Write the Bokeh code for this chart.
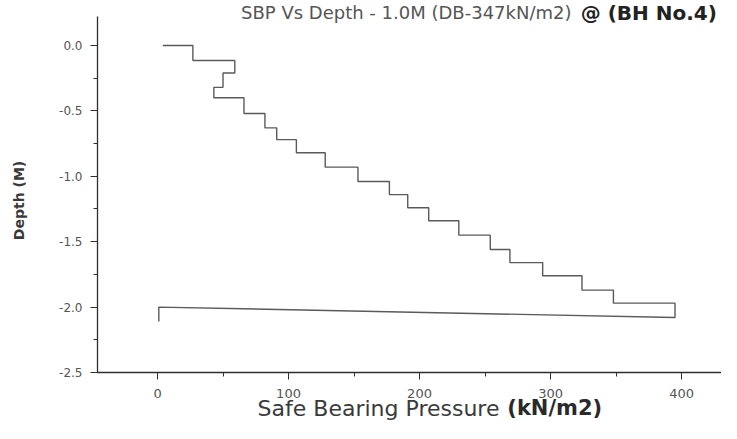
import math
from bokeh.plotting import figure
from bokeh.models import Label, SingleIntervalTicker, PrintfTickFormatter, Range1d
from bokeh.embed import file_html
from bokeh.resources import INLINE

# ---- data ----
# depth (m) at the top of each step and safe bearing pressure (kN/m2) of that step
step_depths = [0.00, -0.115, -0.21, -0.32, -0.40, -0.52, -0.63, -0.72, -0.82, -0.93,
               -1.04, -1.14, -1.24, -1.34, -1.45, -1.56, -1.66, -1.76, -1.87, -1.97]
step_sbp = [27, 59, 50, 43, 66, 82, 91, 106, 128, 153,
            177, 191, 207, 230, 254, 269, 294, 324, 348, 395]
start_sbp = 4
end_depth = -2.08
# closing segment back to the depth axis
return_sbp = [1, 1]
return_depth = [-2.00, -2.11]

x_axis_start = -45.8
y_axis_bounds = (-2.5001, 0.222)
x_ticks_interval = 100
y_ticks_interval = 0.5

title_main = "SBP Vs Depth - 1.0M (DB-347kN/m2)"
title_bold = "@ (BH No.4)"
xlabel_main = "Safe Bearing Pressure"
xlabel_bold = "(kN/m2)"
ylabel = "Depth (M)"

# ---- build step path ----
xs = [start_sbp]
ys = [step_depths[0]]
for i, s in enumerate(step_sbp):
    nxt = step_depths[i + 1] if i + 1 < len(step_depths) else end_depth
    xs += [s, s]
    ys += [step_depths[i], nxt]
xs += return_sbp
ys += return_depth

W, H = 721, 423
p = figure(width=W, height=H,
           x_range=Range1d(-119.85, 430.5), y_range=Range1d(-2.890, 0.344),
           output_backend="svg", toolbar_location=None,
           min_border=0, min_border_left=0, min_border_right=0,
           min_border_top=0, min_border_bottom=0)
p.outline_line_color = None
p.xgrid.visible = False
p.ygrid.visible = False
p.background_fill_color = "white"
p.border_fill_color = "white"

p.line(xs, ys, line_color="#5a5a5a", line_width=1.4)

axis_col = "#2e2e2e"
for ax in (p.xaxis[0], p.yaxis[0]):
    ax.axis_line_color = axis_col
    ax.axis_line_width = 1.3
    ax.major_tick_line_color = axis_col
    ax.minor_tick_line_color = axis_col
    ax.major_tick_in = 0
    ax.minor_tick_in = 0
    ax.major_tick_out = 7
    ax.minor_tick_out = 4
    ax.major_label_text_color = "#555555"
    ax.major_label_text_font = "DejaVu Sans"

p.xaxis.fixed_location = y_axis_bounds[0] + 0.0001
p.xaxis.bounds = (x_axis_start, 430.5)
p.yaxis.fixed_location = x_axis_start
p.yaxis.bounds = y_axis_bounds

p.xaxis.ticker = SingleIntervalTicker(interval=x_ticks_interval, num_minor_ticks=2)
p.yaxis.ticker = SingleIntervalTicker(interval=y_ticks_interval, num_minor_ticks=2)
p.yaxis.formatter = PrintfTickFormatter(format="%.1f")
p.xaxis.major_label_text_font_size = "13px"
p.yaxis.major_label_text_font_size = "12px"
p.xaxis.major_label_standoff = 10
p.yaxis.major_label_standoff = 8

# y-axis label
p.add_layout(Label(x=-106, y=-1.185, text=ylabel, angle=math.pi / 2,
                   text_align="center", text_baseline="middle",
                   text_font="DejaVu Sans", text_font_style="bold",
                   text_font_size="14px", text_color="#3a3a3a"))

# x-axis label (normal + bold parts)
p.add_layout(Label(x=261, y=-2.775, text=xlabel_main, text_align="right",
                   text_baseline="alphabetic", text_font="DejaVu Sans",
                   text_font_size="22px", text_color="#3a3a3a"))
p.add_layout(Label(x=267, y=-2.775, text=xlabel_bold, text_align="left",
                   text_baseline="alphabetic", text_font="DejaVu Sans",
                   text_font_style="bold", text_font_size="21px", text_color="#2a2a2a"))

# title (normal + bold parts), close to the top edge as in the scan
p.add_layout(Label(x=316, y=0.250, text=title_main, text_align="right",
                   text_baseline="alphabetic", text_font="DejaVu Sans",
                   text_font_size="18px", text_color="#555555"))
p.add_layout(Label(x=323, y=0.250, text=title_bold, text_align="left",
                   text_baseline="alphabetic", text_font="DejaVu Sans",
                   text_font_style="bold", text_font_size="20px", text_color="#222222"))

open("out.html", "w").write(file_html(p, INLINE))
